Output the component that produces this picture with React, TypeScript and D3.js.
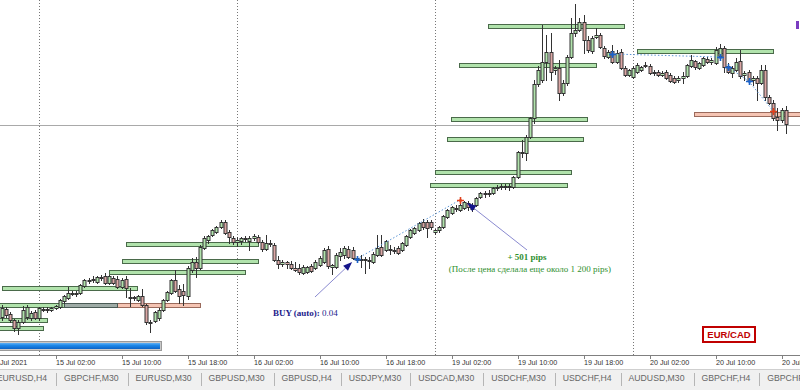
import React from 'react';
import * as d3 from 'd3';

// EUR/CAD M30 quotes, bar 0 = 14 Jul 2021 19:30
const open = [
  1.4733,1.4741,1.4736,1.4730,1.4722,1.4728,1.4733,1.4732,1.4738,1.4732,
  1.4740,1.4741,1.4740,1.4742,1.4743,1.4749,1.4752,1.4757,1.4756,1.4757,
  1.4764,1.4769,1.4770,1.4768,1.4773,1.4774,1.4767,1.4772,1.4771,1.4763,
  1.4771,1.4753,1.4752,1.4750,1.4754,1.4745,1.4727,1.4729,1.4732,1.4740,
  1.4750,1.4757,1.4770,1.4761,1.4759,1.4754,1.4780,1.4788,1.4782,1.4802,
  1.4810,1.4815,1.4818,1.4823,1.4828,1.4818,1.4812,1.4808,1.4809,1.4811,
  1.4809,1.4812,1.4813,1.4808,1.4801,1.4806,1.4805,1.4790,1.4786,1.4788,
  1.4786,1.4782,1.4782,1.4777,1.4778,1.4784,1.4782,1.4785,1.4788,1.4801,
  1.4783,1.4783,1.4794,1.4795,1.4801,1.4800,1.4790,1.4791,1.4790,1.4790,
  1.4788,1.4795,1.4803,1.4800,1.4801,1.4800,1.4802,1.4800,1.4805,1.4813,
  1.4817,1.4820,1.4828,1.4828,1.4828,1.4818,1.4820,1.4823,1.4833,1.4837,
  1.4842,1.4840,1.4842,1.4847,1.4844,1.4845,1.4853,1.4856,1.4857,1.4857,
  1.4862,1.4863,1.4864,1.4863,1.4863,1.4873,1.4897,1.4897,1.4913,1.4932,
  1.4966,1.4970,1.4988,1.4998,1.4980,1.4982,1.4957,1.4967,1.4993,1.5017,
  1.5020,1.5028,1.5010,1.4999,1.5013,1.5015,1.5002,1.4993,1.4999,1.4988,
  1.4998,1.4982,1.4975,1.4973,1.4978,1.4980,1.4984,1.4984,1.4977,1.4978,
  1.4975,1.4978,1.4975,1.4972,1.4970,1.4972,1.4974,1.4984,1.4989,1.4982,
  1.4985,1.4991,1.4988,1.4987,1.4994,1.5002,1.4984,1.4977,1.4980,1.4989,
  1.4975,1.4978,1.4970,1.4972,1.4967,1.4980,1.4953,1.4947,1.4933,1.4930,1.4940,
];
const high = [
  1.4745,1.4743,1.4738,1.4731,1.4730,1.4744,1.4745,1.4739,1.4740,1.4743,
  1.4743,1.4743,1.4743,1.4745,1.4751,1.4755,1.4763,1.4759,1.4759,1.4766,
  1.4771,1.4772,1.4774,1.4774,1.4775,1.4777,1.4775,1.4774,1.4774,1.4772,
  1.4774,1.4762,1.4754,1.4755,1.4761,1.4746,1.4730,1.4739,1.4742,1.4751,
  1.4759,1.4771,1.4780,1.4765,1.4766,1.4784,1.4792,1.4793,1.4805,1.4814,
  1.4815,1.4821,1.4824,1.4830,1.4830,1.4820,1.4814,1.4813,1.4813,1.4814,
  1.4814,1.4816,1.4815,1.4810,1.4815,1.4810,1.4807,1.4794,1.4790,1.4789,
  1.4789,1.4788,1.4786,1.4785,1.4784,1.4786,1.4790,1.4794,1.4802,1.4804,
  1.4786,1.4797,1.4802,1.4804,1.4804,1.4803,1.4794,1.4795,1.4793,1.4793,
  1.4798,1.4815,1.4815,1.4810,1.4805,1.4803,1.4804,1.4808,1.4815,1.4821,
  1.4823,1.4828,1.4831,1.4830,1.4830,1.4821,1.4824,1.4835,1.4841,1.4844,
  1.4845,1.4846,1.4849,1.4849,1.4847,1.4853,1.4858,1.4859,1.4860,1.4863,
  1.4865,1.4866,1.4866,1.4866,1.4874,1.4899,1.4910,1.4915,1.4933,1.4970,
  1.4984,1.5025,1.5015,1.5017,1.4984,1.4990,1.4970,1.4995,1.5032,1.5046,
  1.5032,1.5035,1.5014,1.5014,1.5022,1.5017,1.5004,1.5000,1.5005,1.5000,
  1.5001,1.4984,1.4981,1.4984,1.4987,1.4984,1.4988,1.4986,1.4980,1.4980,
  1.4979,1.4980,1.4977,1.4974,1.4974,1.4978,1.4986,1.4995,1.4990,1.4988,
  1.4993,1.4993,1.4992,1.5003,1.5006,1.5004,1.4987,1.4984,1.4992,1.5000,
  1.4979,1.4980,1.4974,1.4974,1.4985,1.4985,1.4955,1.4950,1.4942,1.4942,1.4944,
];
const low = [
  1.4730,1.4733,1.4728,1.4719,1.4716,1.4727,1.4731,1.4730,1.4731,1.4730,
  1.4739,1.4738,1.4739,1.4741,1.4742,1.4747,1.4751,1.4755,1.4754,1.4756,
  1.4763,1.4767,1.4768,1.4767,1.4770,1.4766,1.4766,1.4766,1.4762,1.4762,
  1.4753,1.4744,1.4750,1.4749,1.4744,1.4726,1.4718,1.4728,1.4730,1.4739,
  1.4749,1.4756,1.4758,1.4747,1.4745,1.4751,1.4778,1.4773,1.4781,1.4801,
  1.4807,1.4814,1.4817,1.4822,1.4816,1.4807,1.4806,1.4804,1.4806,1.4809,
  1.4800,1.4810,1.4807,1.4799,1.4800,1.4804,1.4789,1.4782,1.4784,1.4782,
  1.4781,1.4779,1.4776,1.4776,1.4777,1.4778,1.4781,1.4784,1.4787,1.4782,
  1.4776,1.4782,1.4790,1.4792,1.4792,1.4791,1.4788,1.4783,1.4777,1.4782,
  1.4787,1.4794,1.4794,1.4799,1.4796,1.4797,1.4796,1.4799,1.4804,1.4812,
  1.4816,1.4819,1.4821,1.4813,1.4821,1.4816,1.4818,1.4822,1.4832,1.4836,
  1.4839,1.4839,1.4841,1.4840,1.4839,1.4844,1.4852,1.4853,1.4854,1.4856,
  1.4860,1.4861,1.4861,1.4860,1.4862,1.4872,1.4893,1.4890,1.4912,1.4927,
  1.4964,1.4968,1.4970,1.4970,1.4976,1.4950,1.4955,1.4965,1.4992,1.5014,
  1.5019,1.4997,1.4998,1.4997,1.5012,1.5002,1.4992,1.4992,1.4987,1.4987,
  1.4981,1.4974,1.4974,1.4972,1.4977,1.4979,1.4983,1.4976,1.4975,1.4974,
  1.4974,1.4971,1.4968,1.4967,1.4968,1.4967,1.4973,1.4983,1.4981,1.4981,
  1.4984,1.4987,1.4986,1.4986,1.4992,1.4978,1.4977,1.4973,1.4979,1.4972,
  1.4970,1.4967,1.4965,1.4950,1.4966,1.4950,1.4946,1.4930,1.4920,1.4928,1.4917,
];
const close = [
  1.4742,1.4735,1.4730,1.4722,1.4728,1.4740,1.4743,1.4737,1.4732,1.4742,
  1.4741,1.4740,1.4742,1.4744,1.4750,1.4754,1.4757,1.4756,1.4757,1.4765,
  1.4770,1.4770,1.4771,1.4773,1.4772,1.4767,1.4774,1.4767,1.4763,1.4770,
  1.4762,1.4752,1.4753,1.4754,1.4745,1.4728,1.4728,1.4738,1.4740,1.4750,
  1.4758,1.4770,1.4759,1.4754,1.4755,1.4782,1.4788,1.4782,1.4803,1.4812,
  1.4814,1.4820,1.4823,1.4828,1.4817,1.4813,1.4808,1.4810,1.4812,1.4812,
  1.4812,1.4814,1.4808,1.4801,1.4807,1.4807,1.4790,1.4786,1.4788,1.4786,
  1.4782,1.4780,1.4778,1.4783,1.4783,1.4779,1.4788,1.4792,1.4800,1.4784,
  1.4785,1.4795,1.4798,1.4802,1.4793,1.4792,1.4792,1.4790,1.4791,1.4789,
  1.4796,1.4802,1.4795,1.4809,1.4800,1.4799,1.4797,1.4807,1.4814,1.4820,
  1.4822,1.4827,1.4823,1.4822,1.4823,1.4820,1.4823,1.4834,1.4840,1.4843,
  1.4841,1.4845,1.4848,1.4843,1.4841,1.4852,1.4857,1.4857,1.4856,1.4862,
  1.4863,1.4864,1.4863,1.4864,1.4873,1.4898,1.4898,1.4913,1.4932,1.4966,
  1.4980,1.4988,1.4998,1.4978,1.4982,1.4957,1.4967,1.4993,1.5017,1.5020,
  1.5028,1.5010,1.5000,1.5012,1.5015,1.5003,1.4994,1.4998,1.4988,1.4997,
  1.4982,1.4975,1.4980,1.4982,1.4985,1.4983,1.4985,1.4977,1.4978,1.4975,
  1.4977,1.4972,1.4969,1.4968,1.4972,1.4974,1.4985,1.4990,1.4983,1.4987,
  1.4992,1.4988,1.4990,1.5000,1.5002,1.4983,1.4978,1.4982,1.4988,1.4974,
  1.4977,1.4969,1.4972,1.4967,1.4980,1.4953,1.4947,1.4932,1.4930,1.4940,1.4926,
];

// time axis
const tickBars = [-3, 13, 29, 45, 61, 77, 93, 109, 125, 141, 157, 173, 189];
const tickLabels = [
  '14 Jul 2021', '15 Jul 02:00', '15 Jul 10:00', '15 Jul 18:00', '16 Jul 02:00', '16 Jul 10:00',
  '16 Jul 18:00', '19 Jul 02:00', '19 Jul 10:00', '19 Jul 18:00', '20 Jul 02:00', '20 Jul 10:00', '20 Jul 18:00',
];
const daySeparatorBars = [9, 57, 105, 153];

// supply / demand zones (bar from, bar to, upper price, lower price, kind)
const zoneFrom = [117.8, 110.8, 108.9, 107.9, 105, 103.8, 154, 167.8, 30, 29.1, 26, 0, -5, 15, -22, -23];
const zoneTo = [150.8, 144, 141.8, 140.9, 138, 137, 187, 200.8, 62.1, 62.1, 59, 32.8, 27.9, 48, 11, 10];
const zoneHigh = [1.5026, 1.4987, 1.4933, 1.4913, 1.4880, 1.4867, 1.5001, 1.4938, 1.4808, 1.4791, 1.4780, 1.4764, 1.4747, 1.4747, 1.4732, 1.4724];
const zoneLow = [1.5022, 1.4983, 1.4929, 1.4909, 1.4876, 1.4863, 1.4997, 1.4934, 1.4804, 1.4787, 1.4776, 1.4760, 1.4743, 1.4743, 1.4728, 1.4720];
const zoneKind = ['g', 'g', 'g', 'g', 'g', 'g', 'g', 's', 'g', 'g', 'g', 'g', 'g', 's', 'g', 'g'];

const priceLine = 1.4925;

// trade markers
const markBar = [86, 111, 148, 174, 176, 181, 187];
const markPrice = [1.4791, 1.4850, 1.4996, 1.4993, 1.4983, 1.4969, 1.4939];
const markKind = ['b', 'r', 'b', 'b', 'b', 'b', 'r'];
const tradeFrom = [0, 2, 4, 5];
const tradeTo = [1, 3, 5, 6];

const tabs = ['EURUSD,H4', 'GBPCHF,M30', 'EURUSD,M30', 'GBPUSD,M30', 'GBPUSD,H4', 'USDJPY,M30', 'USDCAD,M30', 'USDCHF,M30', 'USDCHF,H4', 'AUDUSD,M30', 'GBPCHF,H4', 'GBPCHF,M30'];

const GREEN_FILL = '#b1e3ac';
const GREEN_STROKE = '#4a6a4a';
const PINK_FILL = '#dba7a5';
const SALMON_FILL = '#f5c4b3';
const SALMON_STROKE = '#9a6a5c';

function measure(text: string, font: string) {
  const c = document.createElement('canvas').getContext('2d');
  if (!c) return text.length * 5.5;
  c.font = font;
  return c.measureText(text).width;
}

export default function App() {
  const x = d3.scaleLinear().domain([0, 1]).range([1.9, 6.025]);
  const y = d3.scaleLinear().domain([1.505, 1.471]).range([0, 340]);
  const px = (v: number) => Math.round(v) + 0.5;

  const candles = open.map((o, i) => {
    const c = close[i];
    const n = Math.round(x(i));
    const top = Math.round(y(Math.max(o, c)));
    const bot = Math.round(y(Math.min(o, c)));
    const up = c >= o;
    return (
      <g key={i}>
        <line x1={n + 0.5} x2={n + 0.5} y1={Math.round(y(high[i]))} y2={Math.round(y(low[i])) + 1} stroke="#333" strokeWidth={1} />
        <rect x={n - 1} y={top + 0.5} width={3} height={Math.max(bot - top, 1)} fill={up ? GREEN_FILL : PINK_FILL} stroke="#333" strokeWidth={1} />
      </g>
    );
  });

  const zones = zoneFrom.map((f, i) => {
    const x0 = Math.round(x(f));
    const x1 = Math.round(x(zoneTo[i]));
    const y0 = Math.round(y(zoneHigh[i]));
    const y1 = Math.round(y(zoneLow[i]));
    const g = zoneKind[i] === 'g';
    return (
      <rect key={'z' + i} x={x0 + 0.5} y={y0 + 0.5} width={x1 - x0} height={y1 - y0}
        fill={g ? GREEN_FILL : SALMON_FILL} stroke={g ? GREEN_STROKE : SALMON_STROKE} strokeWidth={1} />
    );
  });
  // overlaps of opposite zones
  const overlaps: JSX.Element[] = [];
  zoneFrom.forEach((f, i) => {
    zoneFrom.forEach((f2, j) => {
      if (j <= i || zoneKind[i] === zoneKind[j]) return;
      if (zoneHigh[i] !== zoneHigh[j]) return;
      const a = Math.max(f, f2), b = Math.min(zoneTo[i], zoneTo[j]);
      if (b <= a) return;
      const x0 = Math.round(x(a)), x1 = Math.round(x(b));
      const y0 = Math.round(y(zoneHigh[i])), y1 = Math.round(y(zoneLow[i]));
      overlaps.push(<rect key={'o' + i + j} x={x0 + 0.5} y={y0 + 0.5} width={x1 - x0} height={y1 - y0} fill="#9eaba6" stroke="#4a5a55" strokeWidth={1} />);
    });
  });

  const markers = markBar.map((b, i) => {
    const cx = Math.round(x(b)) + 0.5;
    const cy = Math.round(y(markPrice[i])) + 0.5;
    const col = markKind[i] === 'b' ? '#1d63c9' : '#e0401c';
    return (
      <g key={'m' + i}>
        <path d={`M${cx - 3.5},${cy} L${cx + 3.5},${cy} M${cx},${cy - 3.5} L${cx},${cy + 3.5}`} stroke={col} strokeWidth={1.6} />
        <path d={`M${cx - 2},${cy} L${cx},${cy - 2} L${cx + 2},${cy} L${cx},${cy + 2} Z`} fill={col} />
      </g>
    );
  });
  const tradeLines = tradeFrom.map((a, i) => {
    const b = tradeTo[i];
    return (
      <line key={'t' + i} x1={x(markBar[a])} y1={y(markPrice[a])} x2={x(markBar[b])} y2={y(markPrice[b])}
        stroke="#5b95d6" strokeWidth={1} strokeDasharray="1.5,2" />
    );
  });

  // annotation arrows (anchored in bar / price)
  const arrows = [
    { from: [75.9, 1.4753], to: [84.9, 1.4788] },
    { from: [127.3, 1.4800], to: [112.8, 1.4847] },
  ].map((a, i) => {
    const x1 = x(a.from[0]), y1 = y(a.from[1]), x2 = x(a.to[0]), y2 = y(a.to[1]);
    const ang = Math.atan2(y2 - y1, x2 - x1);
    const L = 9, Wd = 3.5;
    const bx = x2 - L * Math.cos(ang), by = y2 - L * Math.sin(ang);
    const p = `M${x2},${y2} L${bx + Wd * Math.sin(ang)},${by - Wd * Math.cos(ang)} L${bx - Wd * Math.sin(ang)},${by + Wd * Math.cos(ang)} Z`;
    return (
      <g key={'a' + i}>
        <line x1={x1} y1={y1} x2={bx} y2={by} stroke="#8a8ad0" strokeWidth={1} />
        <path d={p} fill="#14148a" />
      </g>
    );
  });

  // tabs layout
  const tabFont = '8.7px "Liberation Sans", Arial, sans-serif';
  let cursor = 47 - measure(tabs[0], tabFont);
  const tabEls: JSX.Element[] = [];
  tabs.forEach((t, i) => {
    const w = measure(t, tabFont);
    tabEls.push(<text key={'tt' + i} x={cursor} y={381} fontFamily='"Liberation Sans", Arial, sans-serif' fontSize={8.7} fill="#666">{t}</text>);
    const sep = cursor + w + 9;
    tabEls.push(<line key={'ts' + i} x1={Math.round(sep) + 0.5} x2={Math.round(sep) + 0.5} y1={373} y2={386} stroke="#b5b5b5" />);
    cursor = sep + 8;
  });

  return (
    <svg width={800} height={390} style={{ position: 'absolute', left: 0, top: 0, background: '#fff' }}>
      <defs>
        <linearGradient id="pb" x1="0" x2="0" y1="0" y2="1">
          <stop offset="0" stopColor="#5fb0f5" />
          <stop offset="0.4" stopColor="#1e88e8" />
          <stop offset="1" stopColor="#0b62c6" />
        </linearGradient>
        <clipPath id="plot"><rect x={0} y={0} width={800} height={355} /></clipPath>
      </defs>
      <rect x={0} y={0} width={800} height={390} fill="#fff" />
      <g clipPath="url(#plot)">
        {daySeparatorBars.map((b, i) => (
          <line key={'d' + i} x1={px(x(b))} x2={px(x(b))} y1={0} y2={355} stroke="#777" strokeDasharray="1,2" />
        ))}
        <line x1={0} x2={800} y1={px(y(priceLine))} y2={px(y(priceLine))} stroke="#a9a9a9" />
        {zones}
        {overlaps}
        {candles}
        {tradeLines}
        {markers}
        {arrows}
        <text x={x(65.7)} y={y(1.4734)} fontFamily='"Liberation Serif", "Times New Roman", serif' fontSize={9} fill="#1c1c8c">
          <tspan fontWeight="bold">BUY (auto):</tspan> 0.04
        </text>
        <text x={x(127.3)} y={y(1.4790)} textAnchor="middle" fontFamily='"Liberation Serif", "Times New Roman", serif' fontSize={9} fontWeight="bold" fill="#2f8f2f">+ 501 pips</text>
        <text x={x(128)} y={y(1.4778)} textAnchor="middle" fontFamily='"Liberation Serif", "Times New Roman", serif' fontSize={9} fill="#2f8f2f">(После цена сделала еще около 1 200 pips)</text>
        <rect x={796} y={21} width={3} height={8} fill="#7a3cc0" />
        {/* progress bar */}
        <rect x={-1.5} y={341.5} width={163} height={9} fill="#c9c9c9" stroke="#9a9a9a" />
        <rect x={0} y={343} width={160} height={6} fill="url(#pb)" />
        {/* symbol label */}
        <rect x={703} y={327} width={52} height={15} fill="#fff" stroke="#c00000" strokeWidth={2} />
        <text x={729} y={338} textAnchor="middle" fontFamily='"Liberation Sans", Arial, sans-serif' fontSize={9.5} fontWeight="bold" fill="#c00000">EUR/CAD</text>
      </g>
      {/* time axis */}
      <line x1={0} x2={800} y1={355.5} y2={355.5} stroke="#808080" />
      {tickBars.map((b, i) => {
        const tx = Math.round(x(b));
        return (
          <g key={'k' + i}>
            <line x1={tx + 0.5} x2={tx + 0.5} y1={355} y2={359} stroke="#808080" />
            <text x={tx} y={365} fontFamily='"Liberation Sans", Arial, sans-serif' fontSize={7.2} fill="#333">{tickLabels[i]}</text>
          </g>
        );
      })}
      {/* tab bar */}
      <rect x={0} y={369} width={800} height={21} fill="#f0f0f0" />
      <line x1={0} x2={800} y1={369.5} y2={369.5} stroke="#cfcfcf" />
      {tabEls}
    </svg>
  );
}
